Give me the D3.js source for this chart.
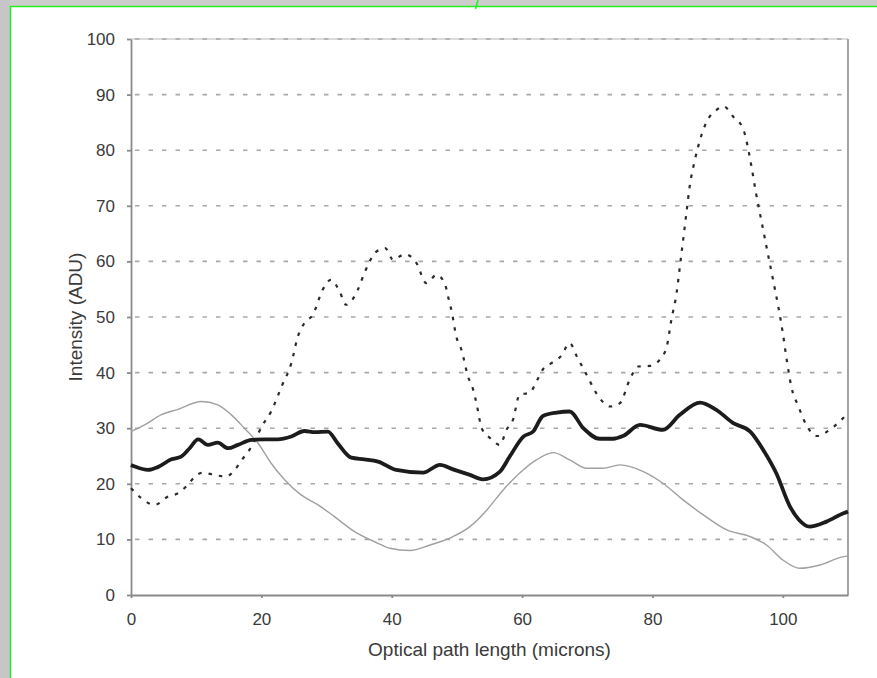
<!DOCTYPE html>
<html>
<head>
	<title>Intensity profile</title>
</head>
<body>

<svg class="chart"></svg>

<style type="text/css">
	body {
		margin: 0;
		background: #fff;
	}

	.chart {
		display: block;
		font-family: "Liberation Sans", Arial, sans-serif;
	}

	.chart .grid line {
		stroke: #a8a8a8;
		stroke-width: 1.6px;
		stroke-dasharray: 4.5 9;
	}

	.chart .axis path,
	.chart .axis line {
		stroke: #8a8a8a;
		stroke-width: 1.8px;
	}

	.chart .axis text {
		fill: #3a3a3a;
		font-size: 17px;
	}

	.chart .title {
		fill: #3a3a3a;
		font-size: 19px;
	}
</style>

<script src="https://d3js.org/d3.v7.min.js"></script>
<script type="text/javascript">
	// thin grey trace
	var greyX = [0, 2.1, 4.6, 7.2, 10.8, 13.3, 15.4, 17.4, 19.5, 21.5, 23.6, 26.1, 28.7, 31.2, 34.3, 37.9, 39.7, 42.8, 45.9, 49.4, 52, 54.6, 57.1, 59.6, 62.2, 64.8, 67.3, 69.9, 72.4, 75, 78.6, 81.6, 84.7, 87.8, 91.4, 95, 97.5, 100, 102.6, 105.7, 109.3, 110]
	var greyY = [29.4, 30.6, 32.4, 33.4, 34.8, 34.2, 32.4, 30, 27.3, 23.7, 20.7, 18, 16.2, 14.1, 11.4, 9.3, 8.4, 8.0, 9.0, 10.5, 12.3, 15.3, 18.9, 21.9, 24.3, 25.6, 24.3, 22.8, 22.8, 23.4, 22.2, 20.1, 17.1, 14.4, 11.7, 10.5, 9.0, 6.3, 4.8, 5.4, 6.9, 7.0]

	// thick black trace
	var blackX = [0, 0.6, 2.6, 4.1, 6.2, 7.7, 9, 10.3, 11.8, 13.3, 14.9, 16.4, 18.5, 20.5, 22.5, 24.6, 26.6, 28.2, 30.2, 31.7, 33.8, 35.8, 37.9, 40.7, 44.8, 47.4, 49.4, 52, 54, 56.6, 58.1, 60.2, 61.7, 63.2, 65.3, 67.3, 69.4, 71.9, 74, 75.5, 78.1, 81.6, 84.2, 87.3, 89.8, 92.4, 95, 97, 99, 101.1, 102.5, 104.1, 106.7, 109.3, 110]
	var blackY = [23.4, 23.1, 22.5, 23, 24.4, 24.9, 26.4, 28, 27, 27.4, 26.4, 27, 27.9, 28, 28, 28.5, 29.5, 29.3, 29.4, 27.3, 24.7, 24.4, 24, 22.5, 22, 23.4, 22.6, 21.6, 20.8, 22.2, 24.9, 28.5, 29.4, 32.2, 32.8, 33, 30, 28.1, 28.1, 28.6, 30.6, 29.7, 32.4, 34.6, 33.3, 30.9, 29.4, 26.1, 21.9, 15.9, 13.5, 12.3, 13.2, 14.7, 15]

	// dotted trace
	var dotX = [0, 1.6, 3.6, 5.7, 7.2, 8.7, 9.8, 11, 12.8, 14.6, 15.9, 17.2, 18.5, 20.2, 21.5, 23.1, 24.6, 25.6, 26.6, 27.9, 29.4, 30.7, 32, 33, 34.8, 35.8, 37.6, 39, 40.2, 42, 43.8, 45.3, 46.9, 48.2, 48.7, 49.2, 49.9, 50.7, 51.7, 52.5, 53, 53.8, 55.1, 56.6, 57.6, 58.6, 59.6, 61.2, 62.2, 63.2, 64.5, 66, 67.3, 68.4, 69.9, 71.9, 73.5, 75, 76.5, 77.8, 79.6, 81.1, 82.2, 82.9, 83.7, 84.2, 84.7, 85.2, 85.7, 86.5, 87, 88.3, 89.8, 90.9, 92.4, 93.9, 94.4, 95.2, 95.9, 96.7, 97.5, 98.5, 99.3, 100, 100.6, 101.3, 102.4, 103.6, 105.2, 107.2, 108.7, 110]
	var dotY = [19.2, 17.4, 16.2, 17.7, 18.3, 19.8, 21.3, 22, 21.6, 21.3, 22.5, 24.6, 26.7, 30.6, 33, 37.5, 41.7, 46.5, 48.9, 50.4, 54.9, 56.7, 54.6, 52.2, 54.9, 57.9, 61.7, 62.4, 60.3, 61.3, 59.7, 56.1, 57.6, 55.8, 53.4, 51, 46.5, 44.1, 39.3, 36.9, 34.5, 30, 28.2, 27, 29.7, 31.5, 36, 36.4, 38.4, 40.6, 41.7, 43, 45.3, 42.9, 39.6, 35.4, 33.9, 34.5, 38.7, 41.1, 41.2, 42.3, 44.7, 49.5, 54.3, 59, 63.8, 68.6, 73.4, 78.2, 80.6, 85.1, 87.2, 87.9, 86, 83.9, 81.8, 77, 72.2, 67.4, 62.6, 56.7, 51.9, 47.1, 42.3, 37.5, 33.9, 30.6, 28.6, 29.7, 31.2, 32.7]

	var xTicks = [0, 20, 40, 60, 80, 100]
	var yTicks = [0, 10, 20, 30, 40, 50, 60, 70, 80, 90, 100]

	;(function() {
		'use strict'

		var width = 877
		var height = 678
		var left = 131, right = 848, top = 39, bottom = 595

		var svg = d3.select('.chart')
			.attr('width', width)
			.attr('height', height)
			.attr('viewBox', [0, 0, width, height])

		// screenshot frame: grey strips and green border
		svg.append('rect').attr('width', width).attr('height', height).attr('fill', '#fff')
		svg.append('rect').attr('width', width).attr('height', 6).attr('fill', '#cdcdcd')
		svg.append('rect').attr('width', 10).attr('height', height).attr('fill', '#c6c6c6')
		svg.append('path')
			.attr('d', 'M10.5,' + height + 'V6.5H' + width + ' M478,0 L475.5,9')
			.attr('fill', 'none')
			.attr('stroke', '#22ee22')
			.attr('stroke-width', 1.5)

		var x = d3.scaleLinear().domain([0, 110]).range([left, right])
		var y = d3.scaleLinear().domain([0, 100]).range([bottom, top])

		// top edge of the plot is a faint solid line under the dashes
		svg.append('line')
			.attr('x1', left).attr('x2', right)
			.attr('y1', y(100)).attr('y2', y(100))
			.attr('stroke', '#cfcfcf')
			.attr('stroke-width', 1.6)

		// horizontal dashed grid
		svg.append('g')
			.attr('class', 'grid')
			.selectAll('line')
			.data(yTicks.filter(function(d) { return d > 0 }))
			.enter()
			.append('line')
			.attr('x1', left + 4)
			.attr('x2', right)
			.attr('y1', function(d) { return y(d) })
			.attr('y2', function(d) { return y(d) })

		// right border
		svg.append('line')
			.attr('x1', right).attr('x2', right)
			.attr('y1', top).attr('y2', bottom)
			.attr('stroke', '#9a9a9a')
			.attr('stroke-width', 1.8)

		svg.append('g')
			.attr('class', 'axis')
			.attr('transform', 'translate(0,' + bottom + ')')
			.call(d3.axisBottom(x).tickValues(xTicks).tickSize(3).tickPadding(15).tickSizeOuter(0))

		svg.append('g')
			.attr('class', 'axis')
			.attr('transform', 'translate(' + left + ',0)')
			.call(d3.axisLeft(y).tickValues(yTicks).tickSize(4).tickPadding(12).tickSizeOuter(0))

		// axis titles
		svg.append('text')
			.attr('class', 'title')
			.attr('x', (left + right) / 2)
			.attr('y', 656)
			.attr('text-anchor', 'middle')
			.text('Optical path length (microns)')

		svg.append('text')
			.attr('class', 'title')
			.attr('transform', 'translate(82,' + ((top + bottom) / 2) + ') rotate(-90)')
			.attr('text-anchor', 'middle')
			.text('Intensity (ADU)')

		var line = d3.line()
			.x(function(d) { return x(d[0]) })
			.y(function(d) { return y(d[1]) })
			.curve(d3.curveMonotoneX)

		function pairs(xs, ys) {
			return xs.map(function(v, i) { return [v, ys[i]] })
		}

		svg.append('path')
			.datum(pairs(greyX, greyY))
			.attr('d', line)
			.attr('fill', 'none')
			.attr('stroke', '#a0a0a0')
			.attr('stroke-width', 1.4)

		svg.append('path')
			.datum(pairs(dotX, dotY))
			.attr('d', line)
			.attr('fill', 'none')
			.attr('stroke', '#2a2a2a')
			.attr('stroke-width', 2.2)
			.attr('stroke-dasharray', '3.5 7')

		svg.append('path')
			.datum(pairs(blackX, blackY))
			.attr('d', line)
			.attr('fill', 'none')
			.attr('stroke', '#1c1c1c')
			.attr('stroke-width', 3.8)
			.attr('stroke-linejoin', 'round')
	})()
</script>
</body>
</html>
